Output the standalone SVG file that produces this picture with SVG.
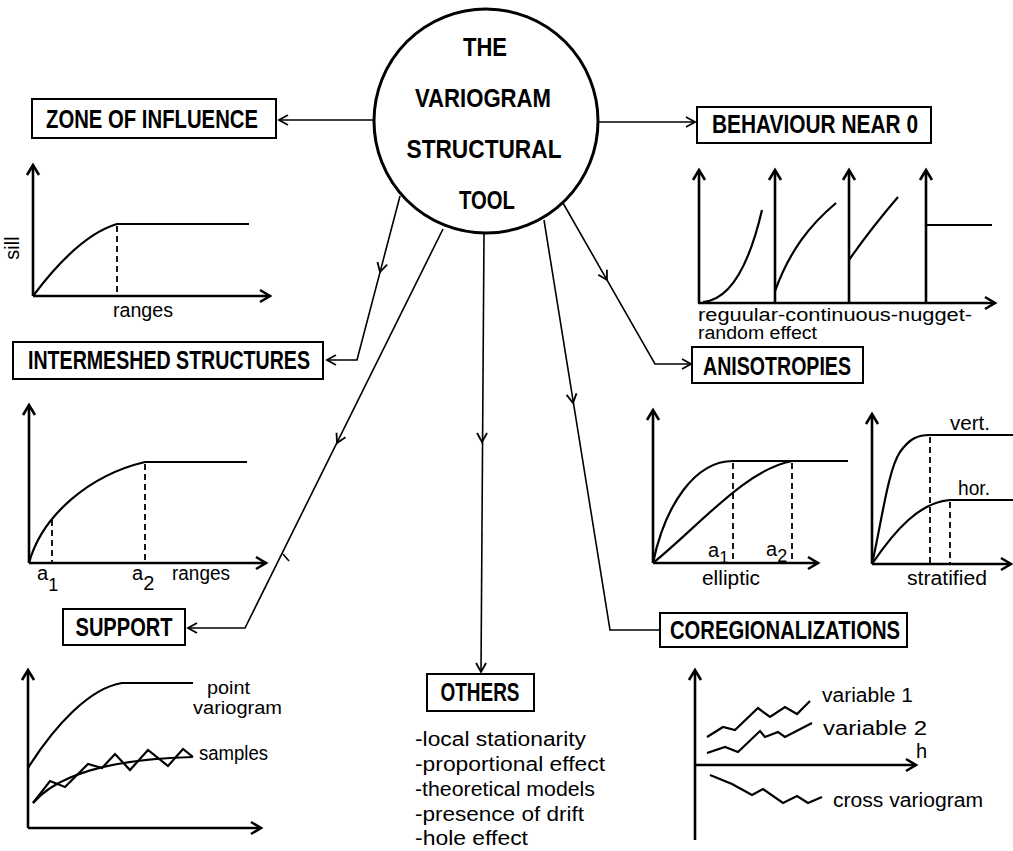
<svg xmlns="http://www.w3.org/2000/svg" width="1013" height="851" viewBox="0 0 1013 851">
<style>
.bx{fill:#fff;stroke:#000;stroke-width:2}
.bt{font-family:"Liberation Sans",Arial,sans-serif;font-weight:bold;font-size:25px;fill:#000;text-anchor:middle}
.tt{font-family:"Liberation Sans",Arial,sans-serif;font-weight:bold;font-size:26px;fill:#000;text-anchor:middle}
.lb{font-family:"Liberation Sans",Arial,sans-serif;font-size:20px;fill:#000}
.sm{font-size:18px}
.ax{fill:none;stroke:#000;stroke-width:2.6;marker-end:url(#axa)}
.cv{fill:none;stroke:#000;stroke-width:2.2}
.ds{fill:none;stroke:#000;stroke-width:1.8;stroke-dasharray:6,4}
.cn{fill:none;stroke:#000;stroke-width:1.6}
.ah{fill:none;stroke:#000;stroke-width:1.8}
</style>
<defs>
<marker id="axa" viewBox="-12 -8 15 16" refX="0" refY="0" markerWidth="15" markerHeight="16" markerUnits="userSpaceOnUse" orient="auto" overflow="visible">
<path d="M-10,-6 L0,0 L-10,6" fill="none" stroke="#000" stroke-width="2.6"/>
</marker>
<marker id="cna" viewBox="-12 -8 15 16" refX="0" refY="0" markerWidth="15" markerHeight="16" markerUnits="userSpaceOnUse" orient="auto" overflow="visible">
<path d="M-9,-5 L0,0 L-9,5" fill="none" stroke="#000" stroke-width="1.8"/>
</marker>
<path id="mh" d="M-9,-5 L0,0 L-9,5"/>
</defs>
<rect width="1013" height="851" fill="#fff"/>

<g id="connectors">
<path class="cn" d="M375,120 L279,120" marker-end="url(#cna)"/>
<path class="cn" d="M597,122 L695,122" marker-end="url(#cna)"/>
<path class="cn" d="M400,196 L357,360 L327,360" marker-end="url(#cna)"/>
<use href="#mh" class="ah" transform="translate(380,272) rotate(104.6)"/>
<path class="cn" d="M443,229 L245,628 L188,628" marker-end="url(#cna)"/>
<use href="#mh" class="ah" transform="translate(337,443) rotate(116.4)"/>
<path class="cn" d="M283,554 L289,561"/>
<path class="cn" d="M484,233 L481,672" marker-end="url(#cna)"/>
<use href="#mh" class="ah" transform="translate(482,442) rotate(90.4)"/>
<path class="cn" d="M544,220 L610,630 L660,630"/>
<use href="#mh" class="ah" transform="translate(573,403) rotate(80.9)"/>
<path class="cn" d="M563,203 L655,364 L691,364" marker-end="url(#cna)"/>
<use href="#mh" class="ah" transform="translate(607,280) rotate(60.3)"/>
</g>

<g id="node-center">
<circle cx="486" cy="121" r="112" fill="#fff" stroke="#000" stroke-width="3"/>
<text class="tt" x="485" y="56" textLength="44" lengthAdjust="spacingAndGlyphs">THE</text>
<text class="tt" x="483" y="107" textLength="136" lengthAdjust="spacingAndGlyphs">VARIOGRAM</text>
<text class="tt" x="484" y="158" textLength="155" lengthAdjust="spacingAndGlyphs">STRUCTURAL</text>
<text class="tt" x="487" y="209" textLength="56" lengthAdjust="spacingAndGlyphs">TOOL</text>
</g>

<g id="node-zone">
<rect class="bx" x="32" y="99" width="244" height="39"/>
<text class="bt" x="152" y="128" textLength="212" lengthAdjust="spacingAndGlyphs">ZONE OF INFLUENCE</text>
</g>
<g id="graph-zone">
<path class="ax" d="M33,296 L33,165"/>
<path class="ax" d="M33,296 L270,296"/>
<path class="cv" d="M33,296 C60,260 90,232 117,224 L249,224"/>
<path class="ds" d="M117,226 V296"/>
<text class="lb" transform="translate(19,248) rotate(-90)" text-anchor="middle">sill</text>
<text class="lb" x="143" y="317" text-anchor="middle" textLength="60" lengthAdjust="spacingAndGlyphs">ranges</text>
</g>

<g id="node-behaviour">
<rect class="bx" x="697" y="107" width="234" height="36"/>
<text class="bt" x="815" y="133" textLength="206" lengthAdjust="spacingAndGlyphs">BEHAVIOUR NEAR 0</text>
</g>
<g id="graph-behaviour">
<path class="ax" d="M698,303 L995,303"/>
<path class="ax" d="M699,303 L699,170"/>
<path class="ax" d="M775,303 L775,170"/>
<path class="ax" d="M849,303 L849,170"/>
<path class="ax" d="M926,303 L926,170"/>
<path class="cv" d="M703,302 C728,300 748,270 762,210"/>
<path class="cv" d="M775,291 C790,250 810,225 836,203"/>
<path class="cv" d="M849,260 C865,237 880,218 898,197"/>
<path class="cv" d="M926,225 L992,225"/>
<text class="lb sm" x="698" y="321" textLength="274" lengthAdjust="spacingAndGlyphs">reguular-continuous-nugget-</text>
<text class="lb sm" x="698" y="339" textLength="119" lengthAdjust="spacingAndGlyphs">random effect</text>
</g>

<g id="node-intermeshed">
<rect class="bx" x="13" y="342" width="310" height="37"/>
<text class="bt" x="169" y="369" textLength="282" lengthAdjust="spacingAndGlyphs">INTERMESHED STRUCTURES</text>
</g>
<g id="graph-intermeshed">
<path class="ax" d="M29,563 L29,405"/>
<path class="ax" d="M29,563 L266,563"/>
<path class="cv" d="M29,563 C42,515 90,475 145,462 L247,462"/>
<path class="ds" d="M52,520 V563"/>
<path class="ds" d="M145,464 V563"/>
<text class="lb" x="37" y="580">a<tspan dy="11" font-size="18">1</tspan></text>
<text class="lb" x="132" y="580">a<tspan dy="10" font-size="20">2</tspan></text>
<text class="lb" x="172" y="580" textLength="58" lengthAdjust="spacingAndGlyphs">ranges</text>
</g>

<g id="node-anisotropies">
<rect class="bx" x="692" y="347" width="171" height="36"/>
<text class="bt" x="777" y="375" textLength="148" lengthAdjust="spacingAndGlyphs">ANISOTROPIES</text>
</g>
<g id="graph-elliptic">
<path class="ax" d="M653,563 L653,410"/>
<path class="ax" d="M653,563 L818,563"/>
<path class="cv" d="M653,563 C665,505 695,461 733,461 L848,461"/>
<path class="cv" d="M653,563 C700,525 745,470 792,461"/>
<path class="ds" d="M733,463 V563"/>
<path class="ds" d="M792,463 V563"/>
<text class="lb" x="708" y="557">a<tspan dy="6" font-size="17">1</tspan></text>
<text class="lb" x="766" y="556">a<tspan dy="6" font-size="18">2</tspan></text>
<text class="lb" x="731" y="585" text-anchor="middle" textLength="58" lengthAdjust="spacingAndGlyphs">elliptic</text>
</g>
<g id="graph-stratified">
<path class="ax" d="M872,564 L872,414"/>
<path class="ax" d="M872,564 L1011,564"/>
<path class="cv" d="M872,564 C882,520 888,470 900,452 C910,438 918,435 930,435 L1013,435"/>
<path class="cv" d="M872,564 C895,530 920,502 950,500 L1013,500"/>
<path class="ds" d="M930,437 V564"/>
<path class="ds" d="M950,502 V564"/>
<text class="lb" x="950" y="430" textLength="40" lengthAdjust="spacingAndGlyphs">vert.</text>
<text class="lb" x="958" y="495" textLength="32" lengthAdjust="spacingAndGlyphs">hor.</text>
<text class="lb" x="947" y="585" text-anchor="middle" textLength="80" lengthAdjust="spacingAndGlyphs">stratified</text>
</g>

<g id="node-support">
<rect class="bx" x="63" y="609" width="122" height="36"/>
<text class="bt" x="124" y="636" textLength="97" lengthAdjust="spacingAndGlyphs">SUPPORT</text>
</g>
<g id="graph-support">
<path class="ax" d="M28,828 L28,670"/>
<path class="ax" d="M28,828 L261,828"/>
<path class="cv" d="M28,768 C55,725 90,688 122,683 L193,683"/>
<path class="cv" d="M33,803 Q70,760 193,757"/>
<path class="cv" d="M33,803 L50,781 L65,787 L88,764 L102,768 L115,754 L130,770 L148,750 L168,766 L183,749 L193,757"/>
<text class="lb sm" x="207" y="694" textLength="43" lengthAdjust="spacingAndGlyphs">point</text>
<text class="lb sm" x="193" y="714" textLength="89" lengthAdjust="spacingAndGlyphs">variogram</text>
<text class="lb" x="199" y="760" textLength="69" lengthAdjust="spacingAndGlyphs">samples</text>
</g>

<g id="node-others">
<rect class="bx" x="427" y="674" width="107" height="37"/>
<text class="bt" x="480" y="701" textLength="79" lengthAdjust="spacingAndGlyphs">OTHERS</text>
<text class="lb" x="415" y="746" textLength="171" lengthAdjust="spacingAndGlyphs">-local stationarity</text>
<text class="lb" x="415" y="771" textLength="190" lengthAdjust="spacingAndGlyphs">-proportional effect</text>
<text class="lb" x="415" y="796" textLength="180" lengthAdjust="spacingAndGlyphs">-theoretical models</text>
<text class="lb" x="415" y="821" textLength="169" lengthAdjust="spacingAndGlyphs">-presence of drift</text>
<text class="lb" x="415" y="845" textLength="113" lengthAdjust="spacingAndGlyphs">-hole effect</text>
</g>

<g id="node-coregionalizations">
<rect class="bx" x="660" y="613" width="247" height="34"/>
<text class="bt" x="785" y="639" textLength="230" lengthAdjust="spacingAndGlyphs">COREGIONALIZATIONS</text>
</g>
<g id="graph-coreg">
<path class="ax" d="M695,840 L695,670"/>
<path class="ax" d="M695,765 L916,765"/>
<path class="cv" d="M707,737 L723,727 L735,730 L758,708 L770,717 L785,707 L797,714 L810,701"/>
<path class="cv" d="M707,753 L725,747 L738,752 L760,731 L765,737 L778,732 L785,737 L812,723"/>
<path class="cv" d="M710,775 L732,784 L752,795 L763,789 L783,803 L797,796 L808,803 L822,797"/>
<text class="lb" x="916" y="758">h</text>
<text class="lb" x="822" y="702" textLength="91" lengthAdjust="spacingAndGlyphs">variable 1</text>
<text class="lb" x="823" y="735" textLength="104" lengthAdjust="spacingAndGlyphs">variable 2</text>
<text class="lb" x="833" y="807" textLength="150" lengthAdjust="spacingAndGlyphs">cross variogram</text>
</g>
</svg>
